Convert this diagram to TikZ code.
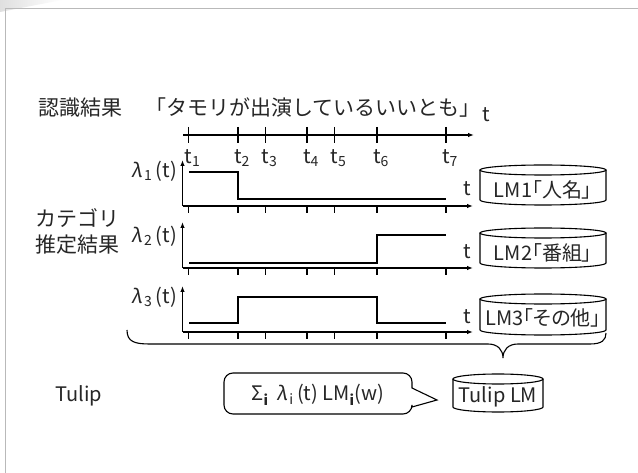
\documentclass[tikz,border=0pt]{standalone}
\usepackage{fontspec}
\setmainfont{Noto Sans CJK JP}
\newfontfamily\grkfont{Noto Sans}[FakeSlant=0.18]
\newfontfamily\pfont{Noto Sans CJK JP}[RawFeature=+palt]
\newcommand\lam{{\grkfont λ}\kern2.5pt}
\usetikzlibrary{arrows.meta}
\begin{document}
\begin{tikzpicture}[x=1pt,y=-1pt,
  txt/.style={font=\fontsize{20}{25}\selectfont, text=black!85, inner sep=0pt},
  jtxt/.style={font=\fontsize{21}{26}\selectfont, text=black!85, inner sep=0pt},
  ax/.style={line width=1.1pt, -{Latex[length=6pt,width=4.5pt]}},
  tickln/.style={line width=1.1pt},
  sig/.style={line width=1.4pt},
  cyl/.style={line width=1.1pt}]
\useasboundingbox (0,0) rectangle (638,473);
\fill[white] (0,0) rectangle (638,473);
\shade[left color=gray!25, right color=white] (0,0) -- (62,0) -- (0,12) -- cycle;
\draw[gray!55, line width=1.6pt] (5.5,473) -- (5.5,8.5) -- (638,8.5);

% recognition result
\node[jtxt] (rec) at (80,108) {認識結果};
\node[jtxt] (utt) at (313,108) {「タモリが出演しているいいとも」};
\node[txt] (tt) at (486,115) {t};
\coordinate (a0s) at (183,135);
\coordinate (a0e) at (474,135);
\draw[ax] (a0s) -- (a0e);
\foreach \x [count=\i] in {188.5,238,265.5,307,334.5,377,446} {
  \draw[tickln] (\x,127) -- (\x,143);
  \node[txt, anchor=north west] (tl\i) at (\x-4,149) {t\textsubscript{\i}};
}

% category estimation
\node[jtxt, align=center] (cat) at (77,231) {カテゴリ\\推定結果};

% plot axes
\foreach \yb/\yt/\n in {206/160/1, 268/222/2, 332/286/3} {
  \coordinate (o\n) at (182.5,\yb);
  \coordinate (up\n) at (182.5,\yt);
  \coordinate (rt\n) at (473,\yb);
  \draw[ax] (o\n) -- (up\n);
  \draw[ax] (o\n) -- (rt\n);
  \foreach \x in {188.5,238,265.5,307,334.5,377,446} {
    \draw[tickln] (\x,\yb) -- (\x,\yb+7);
  }
}
\node[txt, anchor=east] (l1) at (177,171) {\lam\textsubscript{1}\,(t)};
\node[txt, anchor=east] (l2) at (177,236) {\lam\textsubscript{2}\,(t)};
\node[txt, anchor=east] (l3) at (177,297) {\lam\textsubscript{3}\,(t)};
\node[txt] (t1) at (467,189) {t};
\node[txt] (t2) at (467,252) {t};
\node[txt] (t3) at (467,317) {t};

% signals
\draw[sig] (189,172) -- (238,172) -- (238,199) -- (446,199);
\draw[sig] (189,263) -- (377,263) -- (377,235) -- (446,235);
\draw[sig] (189,323) -- (238,323) -- (238,297) -- (377,297) -- (377,323) -- (446,323);

% LM cylinders
\draw[cyl] (480,170) -- (480,200) arc[start angle=180,end angle=0,x radius=63,y radius=5] -- (606,170);
\draw[cyl] (543,170) ellipse[x radius=63,y radius=5];
\node[txt] (lm1) at (543,190) {\pfont LM1「人名」};
\draw[cyl] (480,233) -- (480,263) arc[start angle=180,end angle=0,x radius=63,y radius=5] -- (606,233);
\draw[cyl] (543,233) ellipse[x radius=63,y radius=5];
\node[txt] (lm2) at (543,253) {\pfont LM2「番組」};
\draw[cyl] (480,299) -- (480,330) arc[start angle=180,end angle=0,x radius=63,y radius=5] -- (606,299);
\draw[cyl] (543,299) ellipse[x radius=63,y radius=5];
\node[txt] (lm3) at (543,318) {\pfont LM3「その他」};

% brace
\coordinate (bl) at (127,330);
\coordinate (btip) at (503,358);
\coordinate (br) at (606,333);
\draw[cyl] (bl) .. controls (127,342) and (135,344) .. (150,344) -- (488,344)
  .. controls (498,344) and (503,350) .. (btip)
  .. controls (503,350) and (508,344) .. (518,344) -- (590,344)
  .. controls (602,344) and (606,340) .. (br);

% Tulip
\node[txt] (tulip) at (79,396) {Tulip};
\coordinate (ptip) at (437,400);
\draw[cyl] (ptip) -- (412,407) [rounded corners=9] -- (412,414) -- (224,414) -- (224,373) -- (412,373) [sharp corners] -- (412,388) -- cycle;
\node[txt] (bub) at (318,395) {Σ\textsubscript{\textbf{i}}\, \lam\textsubscript{i}\,(t) LM\textsubscript{\textbf{i}}(w)};
\draw[cyl] (453,379) -- (453,407) arc[start angle=180,end angle=0,x radius=45,y radius=5] -- (543,379);
\draw[cyl] (498,379) ellipse[x radius=45,y radius=5];
\node[txt] (tlm) at (498,397) {Tulip LM};
\end{tikzpicture}
\end{document}
